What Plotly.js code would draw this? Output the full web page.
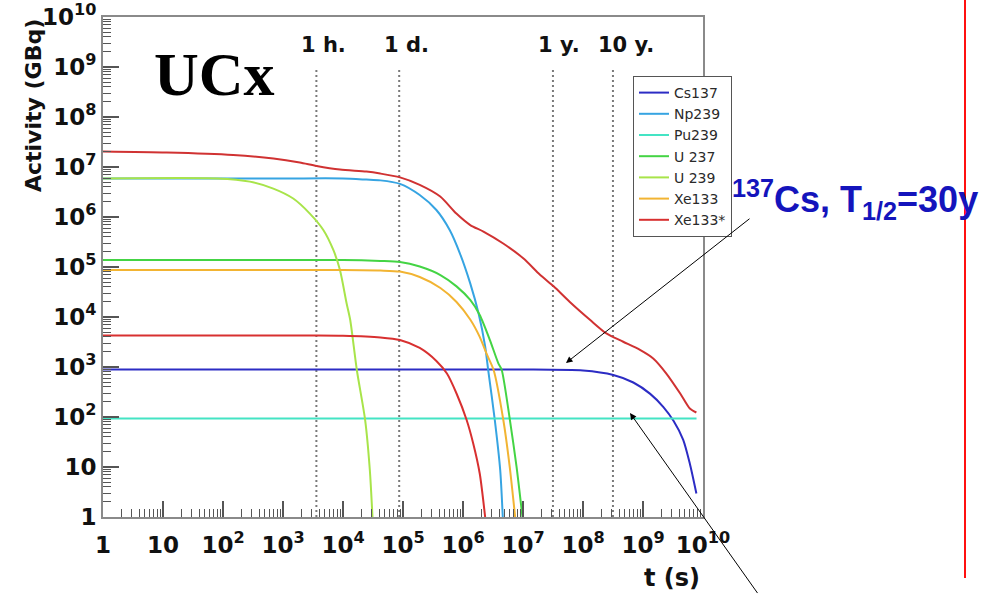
<!DOCTYPE html>
<html><head><meta charset="utf-8">
<script src="https://cdn.plot.ly/plotly-3.0.1.min.js"></script>
<style>html,body{margin:0;padding:0;background:#fff}#chart{width:1000px;height:598px}</style>
</head><body><div id="chart"></div>
<script>
// ---- data ----
const tickValues = [1, 10, 1e2, 1e3, 1e4, 1e5, 1e6, 1e7, 1e8, 1e9, 1e10];
const tickLabels = ['1', '10', '10<sup>2</sup>', '10<sup>3</sup>', '10<sup>4</sup>', '10<sup>5</sup>',
  '10<sup>6</sup>', '10<sup>7</sup>', '10<sup>8</sup>', '10<sup>9</sup>', '10<sup>10</sup>'];
const eventTimes = [3600, 86400, 3.156e7, 3.156e8];
const eventLabels = ['1 h.', '1 d.', '1 y.', '10 y.'];
const eventTop = 9.5e8;

const cs137T = [1, 1e3, 1e6, 1e7, 1e8, 3.2e8, 6.9e8, 1.32e9, 2.19e9, 3.24e9, 4.68e9, 6.0e9, 7.76e9];
const cs137A = [890, 890, 890, 890, 850, 692, 490, 290, 158, 83, 35, 12, 2.95];

const np239T = [1, 1e3, 1e4, 2.45e4, 4.2e4, 8.9e4, 1.9e5, 3.6e5, 6.0e5, 8.9e5, 1.32e6, 1.82e6, 2.34e6, 2.63e6, 3.39e6, 4.17e6, 4.6e6];
const np239A = [5.9e6, 5.9e6, 5.9e6, 5.6e6, 5.4e6, 4.6e6, 2.75e6, 1.38e6, 5.5e5, 1.86e5, 4.7e4, 1.17e4, 2.57e3, 870, 87, 8.7, 1.0];

const pu239T = [1, 7.8e9];
const pu239A = [93, 93];

const u237T = [1, 1e4, 4.2e4, 8.9e4, 1.9e5, 4.2e5, 7.8e5, 1.32e6, 1.9e6, 2.8e6, 3.9e6, 4.4e6, 6.0e6, 7.8e6, 9.8e6];
const u237A = [1.38e5, 1.38e5, 1.32e5, 1.26e5, 1.02e5, 6.9e4, 4.1e4, 2.19e4, 1.1e4, 3.5e3, 1.17e3, 890, 93, 10.2, 1.0];

const u239T = [1, 80, 280, 690, 1480, 2800, 4700, 6900, 8900, 1.15e4, 1.32e4, 1.7e4, 2.34e4, 2.8e4, 3.1e4];
const u239A = [5.9e6, 5.9e6, 5.1e6, 3.7e6, 2.34e6, 1.17e6, 5.5e5, 2.19e5, 8.7e4, 1.86e4, 8.7e3, 870, 87, 8.7, 1.0];

const xe133T = [1, 1e4, 4.2e4, 8.9e4, 1.9e5, 4.2e5, 7.8e5, 1.32e6, 1.9e6, 2.5e6, 3.24e6, 4.7e6, 6.0e6, 7.4e6];
const xe133A = [8.7e4, 8.7e4, 8.5e4, 8.1e4, 6.3e4, 3.8e4, 2.0e4, 8.9e3, 4.0e3, 1.78e3, 870, 87, 10.2, 1.0];

const xe133mT = [1, 3600, 1.0e4, 4.2e4, 8.9e4, 1.9e5, 3.6e5, 5.4e5, 7.8e5, 1.15e6, 1.48e6, 1.9e6, 2.34e6];
const xe133mA = [4.25e3, 4.25e3, 4.2e3, 3.9e3, 3.47e3, 2.4e3, 1.32e3, 740, 295, 87, 29.5, 7.4, 1.0];

const totalT = [1, 11.5, 148, 692, 1905, 3631, 8913, 24547, 41687, 89125, 1.9e5, 4.17e5, 7.76e5, 1.32e6, 2.19e6,
  4.68e6, 1.02e7, 1.9e7, 3.24e7, 6.03e7, 1.32e8, 2.45e8, 4.68e8, 8.91e8, 1.48e9, 2.45e9, 4.17e9, 6.03e9, 7.76e9];
const totalA = [2.04e7, 1.95e7, 1.74e7, 1.48e7, 1.23e7, 1.05e7, 8.9e6, 8.1e6, 7.4e6, 6.2e6, 4.4e6, 2.57e6, 1.17e6,
  6.9e5, 5.1e5, 2.95e5, 1.48e5, 7.1e4, 4.1e4, 2.0e4, 8.7e3, 4.7e3, 3.2e3, 2.2e3, 1.48e3, 740, 295, 148, 123];

// ---- chart ----
const W = 1000, H = 598, L = 103, R = 703, T = 17, B = 517;
const px = x => (x - L) / (R - L);
const py = y => (B - y) / (B - T);

const minorVals = [];
for (let e = 0; e < 10; e++) for (let d = 2; d <= 9; d++) minorVals.push(d * Math.pow(10, e));

function curve(name, t, a, color, show) {
  return {type: 'scatter', mode: 'lines', name: name, x: t, y: a, showlegend: show,
    line: {color: color, width: 2, shape: 'spline', smoothing: 0.7}, hoverinfo: 'skip'};
}

const traces = [];
eventTimes.forEach(tv => traces.push({type: 'scatter', mode: 'lines', x: [tv, tv], y: [1, eventTop],
  showlegend: false, hoverinfo: 'skip', line: {color: '#7a7a7a', width: 2, dash: '2px,3px'}}));
traces.push(curve('Total', totalT, totalA, '#d03232', false));
traces.push(curve('Cs137', cs137T, cs137A, '#2c2cc4', true));
traces.push(curve('Np239', np239T, np239A, '#36a4e2', true));
traces.push(curve('Pu239', pu239T, pu239A, '#44e4c4', true));
traces.push(curve('U 237', u237T, u237A, '#44d444', true));
traces.push(curve('U 239', u239T, u239A, '#a8e44a', true));
traces.push(curve('Xe133', xe133T, xe133A, '#f2b432', true));
traces.push(curve('Xe133*', xe133mT, xe133mA, '#d83030', true));

const tickFont = {family: 'DejaVu Sans', size: 23, weight: 'bold', color: '#111'};
const axisCommon = {type: 'log', range: [0, 10], showgrid: false, zeroline: false,
  showline: true, mirror: true, linecolor: '#8a8a8a', linewidth: 2,
  ticks: 'inside', ticklen: 16, tickwidth: 1.2, tickcolor: '#555',
  tickmode: 'array', tickvals: tickValues, ticktext: tickLabels, tickfont: tickFont,
  minor: {tickmode: 'array', tickvals: minorVals, ticks: 'inside', ticklen: 8, tickwidth: 1, tickcolor: '#555', showgrid: false}};

const annotations = [];
annotations.push({xref: 'paper', yref: 'paper', x: px(152), y: py(74), xanchor: 'left', yanchor: 'middle',
  text: '<b>UCx</b>', showarrow: false, font: {family: 'Liberation Serif', size: 62, color: '#000'}});
annotations.push({xref: 'paper', yref: 'paper', x: px(730), y: py(199), xanchor: 'left', yanchor: 'middle',
  text: '<b><sup>137</sup>Cs, T<sub>1/2</sub>=30y</b>', showarrow: false,
  font: {family: 'Liberation Sans', size: 36, color: '#1414bc'}});
eventTimes.forEach((tv, i) => annotations.push({xref: 'x', yref: 'paper', x: Math.log10(tv), y: py(45),
  xanchor: 'left', yanchor: 'middle', xshift: -17, text: eventLabels[i], showarrow: false,
  font: {family: 'DejaVu Sans', size: 21, weight: 'bold', color: '#111'}}));
annotations.push({xref: 'paper', yref: 'paper', x: px(33), y: py(106), xanchor: 'center', yanchor: 'middle',
  textangle: -90, text: 'Activity (GBq)', showarrow: false,
  font: {family: 'DejaVu Sans', size: 22, weight: 'bold', color: '#111'}});
annotations.push({xref: 'paper', yref: 'paper', x: px(702), y: py(578), xanchor: 'right', yanchor: 'middle',
  text: 't (s)', showarrow: false, font: {family: 'DejaVu Sans', size: 24, weight: 'bold', color: '#111'}});
annotations.push({xref: 'paper', yref: 'paper', x: px(566), y: py(363), text: ' ', showarrow: true,
  axref: 'pixel', ayref: 'pixel', ax: 187, ay: -147, arrowhead: 2, arrowsize: 1.3, arrowwidth: 1, arrowcolor: '#000'});
annotations.push({xref: 'paper', yref: 'paper', x: px(630), y: py(413), text: ' ', showarrow: true,
  axref: 'pixel', ayref: 'pixel', ax: 131, ay: 197, arrowhead: 2, arrowsize: 1.3, arrowwidth: 1, arrowcolor: '#000'});

const shapes = [{type: 'line', xref: 'paper', yref: 'paper', x0: px(965), x1: px(965), y0: py(578), y1: py(-2),
  line: {color: '#ff1010', width: 2}}];

const layout = {
  width: W, height: H, margin: {l: L, r: W - R, t: T, b: H - B},
  paper_bgcolor: '#fff', plot_bgcolor: '#fff', hovermode: false,
  font: {family: 'DejaVu Sans', color: '#111'},
  xaxis: Object.assign({}, axisCommon, {ticklabelstandoff: 6}),
  yaxis: Object.assign({}, axisCommon),
  showlegend: true,
  legend: {x: px(732), y: py(76), xanchor: 'right', yanchor: 'top', bgcolor: '#fff',
    bordercolor: '#555', borderwidth: 1, font: {family: 'DejaVu Sans', size: 14, color: '#2a2a2a'},
    traceorder: 'normal'},
  annotations: annotations, shapes: shapes
};

Plotly.newPlot('chart', traces, layout, {displayModeBar: false, staticPlot: true});
</script>
</body></html>
